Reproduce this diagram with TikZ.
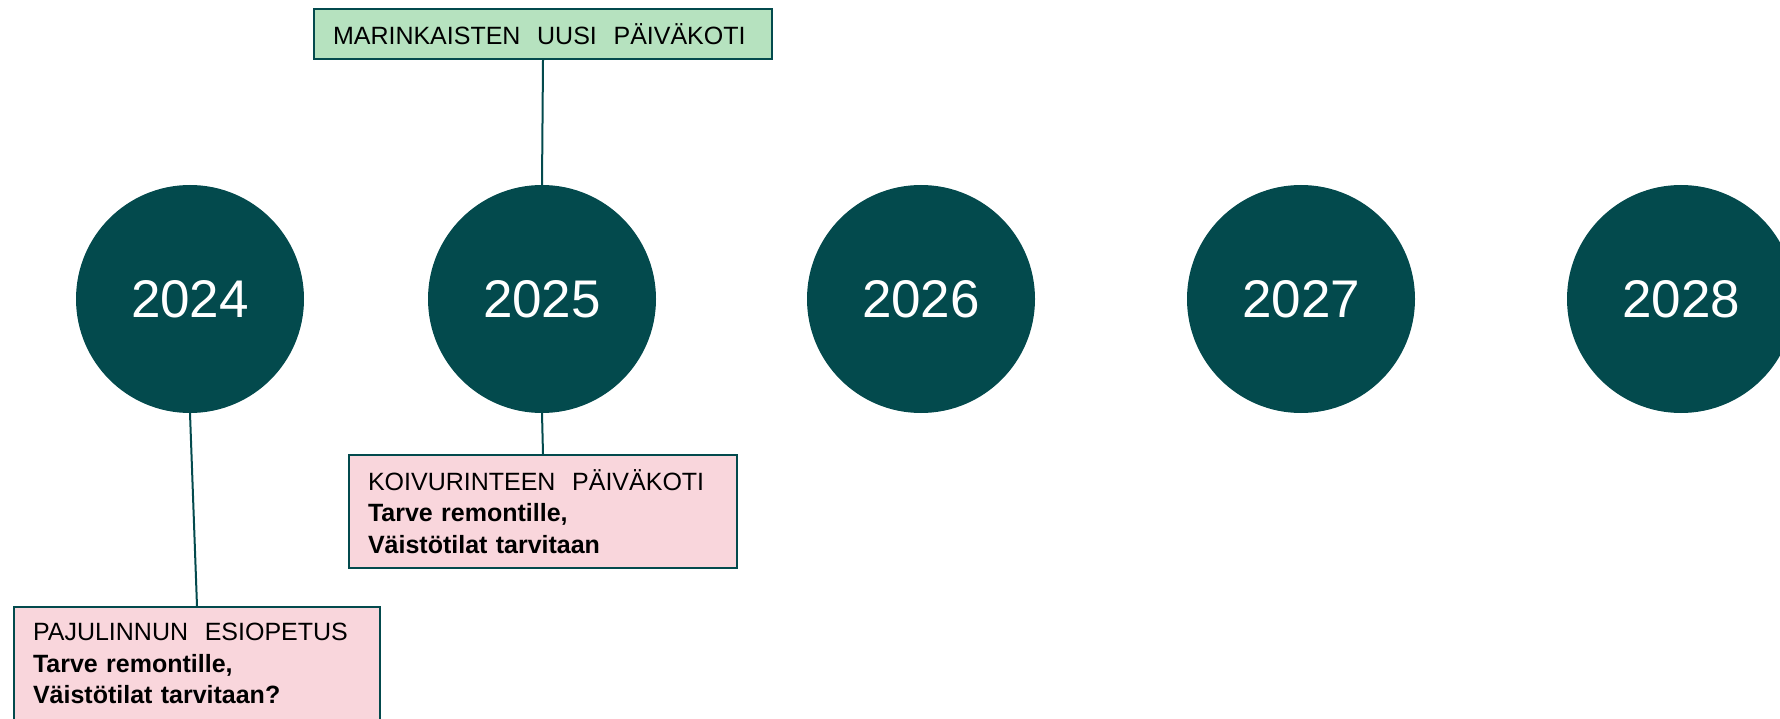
\documentclass[tikz,border=0pt]{standalone}
\usepackage{fontspec}
\setmainfont{Liberation Sans}
\usepackage{tikz}
\usetikzlibrary{positioning}

\definecolor{darkteal}{RGB}{3,74,77}
\definecolor{boxgreen}{RGB}{182,226,191}
\definecolor{boxpink}{RGB}{249,214,220}

\begin{document}
\begin{tikzpicture}[x=1pt, y=-1pt,
    yearball/.style={circle, fill=darkteal, minimum size=228pt, inner sep=0pt, text=white, font=\fontsize{53}{60}\selectfont},
    greenbox/.style={draw=darkteal, line width=2pt, fill=boxgreen, inner xsep=19pt, inner ysep=0pt, align=left, font=\fontsize{25}{31.5}\selectfont},
    pinkbox/.style={draw=darkteal, line width=2pt, fill=boxpink, inner xsep=19pt, inner ysep=0pt, align=left, font=\fontsize{25}{31.5}\selectfont},
    link/.style={darkteal, line width=2pt}]
    % Page frame
    \clip (0,0) rectangle (1780,719);
    
    % Year circles
    \node[yearball] (y2024) at (190,299) {2024};
    \node[yearball] (y2025) at (542,299) {2025};
    \node[yearball] (y2026) at (921,299) {2026};
    \node[yearball] (y2027) at (1301,299) {2027};
    \node[yearball] (y2028) at (1681,299) {2028};
    
    % Projects
    \node[greenbox, text width=420pt, minimum height=50pt, anchor=north west] (marinkainen) at (313,8)
        {MARINKAISTEN\ \ UUSI\ \ PÄIVÄKOTI};
    \node[pinkbox, text width=350pt, minimum height=113pt, anchor=north west] (koivurinne) at (348,454)
        {KOIVURINTEEN\ \ PÄIVÄKOTI\\\textbf{Tarve remontille,}\\\textbf{Väistötilat tarvitaan}};
    \node[pinkbox, text width=328pt, minimum height=113pt, anchor=north west] (pajulinna) at (13,606)
        {PAJULINNUN\ \ ESIOPETUS\\\textbf{Tarve remontille,}\\\textbf{Väistötilat tarvitaan?}};
    
    % Links to the years
    \draw[link] (marinkainen.south) -- (y2025.north);
    \draw[link] (y2025.south) -- (koivurinne.north);
    \draw[link] (y2024.south) -- (pajulinna.north);
\end{tikzpicture}
\end{document}
